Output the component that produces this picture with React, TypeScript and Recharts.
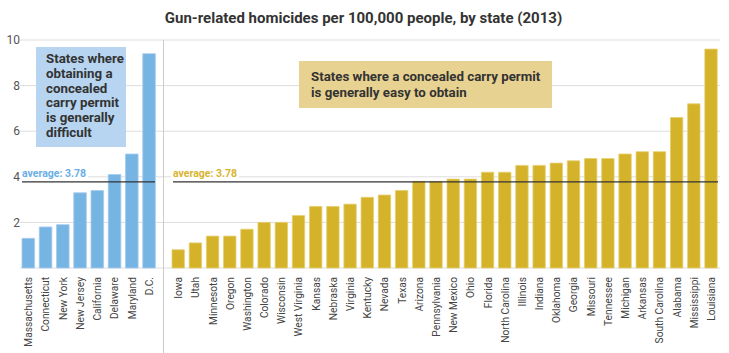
import React from 'react';
import { BarChart, Bar, XAxis, YAxis, CartesianGrid, ReferenceLine } from 'recharts';

const DIFFICULT_STATES = [
  'Massachusetts', 'Connecticut', 'New York', 'New Jersey',
  'California', 'Delaware', 'Maryland', 'D.C.',
];
const DIFFICULT_RATES = [1.3, 1.8, 1.9, 3.3, 3.4, 4.1, 5.0, 9.4];

const EASY_STATES = [
  'Iowa', 'Utah', 'Minnesota', 'Oregon', 'Washington', 'Colorado', 'Wisconsin',
  'West Virginia', 'Kansas', 'Nebraska', 'Virginia', 'Kentucky', 'Nevada', 'Texas',
  'Arizona', 'Pennsylvania', 'New Mexico', 'Ohio', 'Florida', 'North Carolina',
  'Illinois', 'Indiana', 'Oklahoma', 'Georgia', 'Missouri', 'Tennessee', 'Michigan',
  'Arkansas', 'South Carolina', 'Alabama', 'Mississippi', 'Louisiana',
];
const EASY_RATES = [
  0.8, 1.1, 1.4, 1.4, 1.7, 2.0, 2.0, 2.3, 2.7, 2.7, 2.8, 3.1, 3.2, 3.4,
  3.8, 3.8, 3.9, 3.9, 4.2, 4.2, 4.5, 4.5, 4.6, 4.7, 4.8, 4.8, 5.0,
  5.1, 5.1, 6.6, 7.2, 9.6,
];

const Y_TICKS = [0, 2, 4, 6, 8, 10];
const AVERAGE = 3.78;

const DIFFICULT_NOTE = ['States where', 'obtaining a', 'concealed', 'carry permit', 'is generally', 'difficult'];
const EASY_NOTE = ['States where a concealed carry permit', 'is generally easy to obtain'];

const BLUE = '#76b4e3';
const GOLD = '#d4b22a';
const FONT = 'Roboto, sans-serif';

const difficultRows = DIFFICULT_STATES.map((state, i) => ({ state, rate: DIFFICULT_RATES[i] }));
const easyRows = EASY_STATES.map((state, i) => ({ state, rate: EASY_RATES[i] }));

/** Rotated state name under each bar. */
const StateTick = ({ x, y, payload }: any) => (
  <text
    transform={`translate(${x},${y + 9}) rotate(-90)`}
    textAnchor="end"
    dy="0.35em"
    fontSize={10.2}
    fill="#444"
    fontFamily={FONT}
  >
    {payload.value}
  </text>
);

/** Average line trimmed to the span of the bars. */
const avgLine = (trimLeft: number, trimRight: number) => (p: any) => {
  const a = Math.min(p.x1, p.x2);
  const b = Math.max(p.x1, p.x2);
  return <line x1={a + trimLeft} x2={b - trimRight} y1={p.y1} y2={p.y2} stroke="#333" strokeWidth={1.3} />;
};

const avgLabel = (color: string, inset: number) => (props: any) => {
  const { viewBox } = props;
  const x = viewBox.x + inset;
  const y = viewBox.y;
  return (
    <g>
      <rect x={x - 2} y={y - 15} width={68} height={12} fill="#fff" />
      <text x={x} y={y - 5} fill={color} fontSize={10.5} fontWeight={700} fontFamily={FONT}>
        average: {AVERAGE}
      </text>
    </g>
  );
};

const boxText: React.CSSProperties = {
  position: 'absolute',
  fontFamily: FONT,
  fontWeight: 700,
  fontSize: 13.3,
  color: '#333',
  boxSizing: 'border-box',
  whiteSpace: 'nowrap',
};

export default function App() {
  return (
    <div style={{ position: 'absolute', left: 0, top: 0, width: 729, height: 353, background: '#fff', overflow: 'hidden' }}>
      <div
        style={{
          position: 'absolute', top: 8, left: 0, width: 727, textAlign: 'center',
          fontFamily: FONT, fontWeight: 700, fontSize: 15, lineHeight: '20px', color: '#333',
        }}
      >
        Gun-related homicides per 100,000 people, by state (2013)
      </div>

      <div style={{ position: 'absolute', left: 0, top: 0 }}>
        <BarChart width={163} height={353} data={difficultRows} margin={{ top: 40, right: 0, bottom: 0, left: 0 }}>
          <CartesianGrid vertical={false} stroke="#ddd" />
          <XAxis
            dataKey="state" interval={0} axisLine={false} tickLine={false}
            tickSize={0} tickMargin={0} height={85} padding={{ left: 0, right: 5 }}
            tick={<StateTick />}
          />
          <YAxis
            domain={[0, 10]} ticks={Y_TICKS} width={20} axisLine={false} tickLine={false}
            tickSize={0} tickMargin={0}
            tick={{ fontSize: 12, fill: '#555', fontFamily: FONT }}
            tickFormatter={(v: number) => (v === 0 ? '' : String(v))}
          />
          <ReferenceLine y={AVERAGE} shape={avgLine(2, 8)} label={avgLabel('#6aaee6', 2)} />
          <Bar dataKey="rate" fill={BLUE} stroke="#a6cdee" strokeWidth={0.8} barSize={12.6} isAnimationActive={false} />
        </BarChart>
      </div>

      <div style={{ position: 'absolute', left: 163, top: 0 }}>
        <BarChart width={566} height={353} data={easyRows} margin={{ top: 40, right: 9, bottom: 0, left: 0 }}>
          <CartesianGrid vertical={false} stroke="#ddd" />
          <XAxis
            dataKey="state" interval={0} axisLine={false} tickLine={false}
            tickSize={0} tickMargin={0} height={85} padding={{ left: 7, right: 0 }}
            tick={<StateTick />}
          />
          <YAxis hide domain={[0, 10]} ticks={Y_TICKS} />
          <ReferenceLine y={AVERAGE} shape={avgLine(10, 2)} label={avgLabel('#d8b431', 10)} />
          <Bar dataKey="rate" fill={GOLD} stroke="#e6cf6e" strokeWidth={0.8} barSize={12.4} isAnimationActive={false} />
        </BarChart>
      </div>

      <div style={{ position: 'absolute', left: 163, top: 40, width: 1, height: 313, background: '#ccc' }} />

      <div
        style={{
          ...boxText, left: 36, top: 47, width: 90, height: 100, background: '#b7d5f0',
          padding: '5px 0 0 10px', lineHeight: '14.8px',
        }}
      >
        {DIFFICULT_NOTE.map((line) => (
          <div key={line}>{line}</div>
        ))}
      </div>

      <div
        style={{
          ...boxText, left: 299, top: 61, width: 253, height: 47, background: '#e8d291',
          padding: '8px 0 0 12px', lineHeight: '15.5px',
        }}
      >
        {EASY_NOTE.map((line) => (
          <div key={line}>{line}</div>
        ))}
      </div>
    </div>
  );
}
